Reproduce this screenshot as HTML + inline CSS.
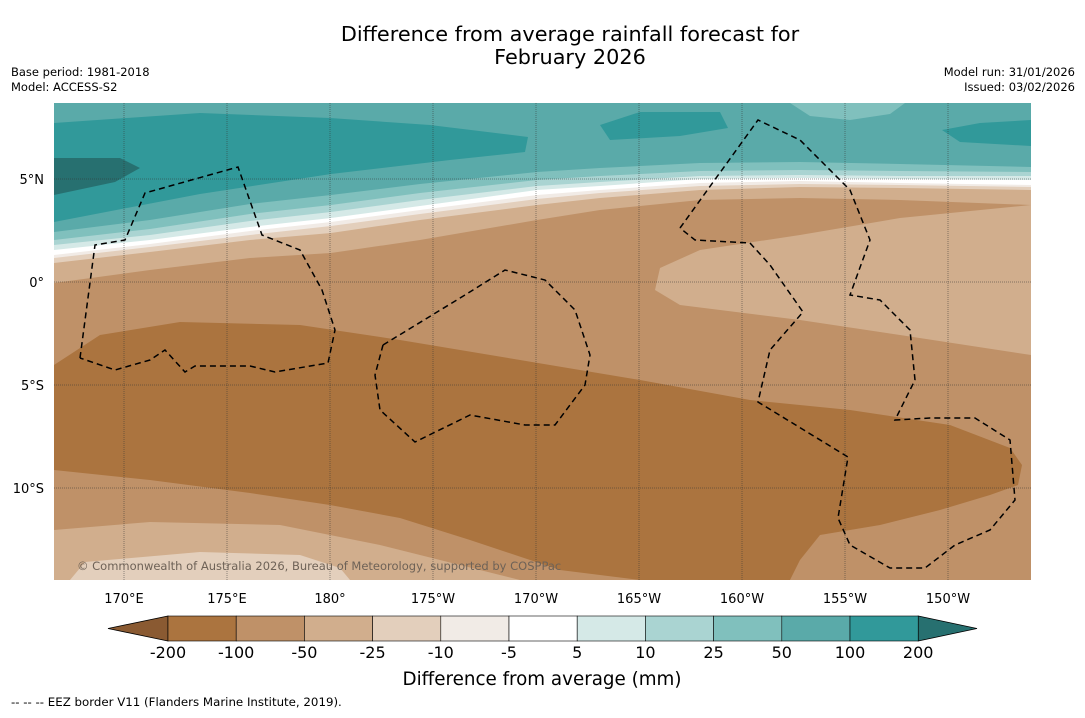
<!DOCTYPE html>
<html><head><meta charset="utf-8"><style>
body{margin:0;background:#fff;}
svg text{font-family:"DejaVu Sans","Liberation Sans",sans-serif;}
</style></head><body>
<svg width="1085" height="713" viewBox="0 0 1085 713" xmlns="http://www.w3.org/2000/svg">
<text x="570" y="41" font-size="20.8" text-anchor="middle">Difference from average rainfall forecast for</text>
<text x="570" y="64" font-size="20.8" text-anchor="middle">February 2026</text>
<text x="11" y="76" font-size="11.5">Base period: 1981-2018</text>
<text x="11" y="91" font-size="11.5">Model: ACCESS-S2</text>
<text x="1075" y="76" font-size="11.5" text-anchor="end">Model run: 31/01/2026</text>
<text x="1075" y="91" font-size="11.5" text-anchor="end">Issued: 03/02/2026</text>
<defs><clipPath id="mc"><rect x="54" y="103" width="977" height="477"/></clipPath></defs>
<g id="map" clip-path="url(#mc)"></g>
<g id="axes"></g>
<g id="cbar"></g>
<text x="542" y="685" font-size="18.3" text-anchor="middle">Difference from average (mm)</text>
<text x="11" y="706" font-size="11.8">--  --  -- EEZ border V11 (Flanders Marine Institute, 2019).</text>
</svg>
<script>
const levelLabels=["-200","-100","-50","-25","-10","-5","5","10","25","50","100","200"];
const levelColors=["#ab743f","#bf9168","#d1ae8d","#e3cfbc","#f1ebe6","#ffffff","#d5e9e7","#aad4d2","#80c0bd","#5aaaa9","#31999a"];
const lowColor="#8a5a32", highColor="#277070";
const lonTicks=[170,175,180,-175,-170,-165,-160,-155,-150];
const lonLabels=["170°E","175°E","180°","175°W","170°W","165°W","160°W","155°W","150°W"];
const latTicks=[5,0,-5,-10];
const latLabels=["5°N","0°","5°S","10°S"];
const NS="http://www.w3.org/2000/svg";
const xLon=l=>{let e=l<0?l+360:l;return 124+(e-170)*20.6;};
const yLat=l=>282-l*20.6;
const map=document.getElementById('map');
function poly(pts,fill,name){const p=document.createElementNS(NS,'polygon');p.setAttribute('points',pts.map(a=>a.join(',')).join(' '));p.setAttribute('fill',fill);


map.appendChild(p);}
const X=[54,150,250,331,420,537,600,700,800,900,1031];
function band(ys,fill,name){const pts=[[54,103],[1031,103]];for(let i=X.length-1;i>=0;i--)pts.push([X[i],ys[i]]);poly(pts,fill,name);}
poly([[54,103],[1031,103],[1031,580],[54,580]],levelColors[1],'anomaly-minus50-100');
band([283,270,258,253,240,220,210,200,198,200,205],levelColors[2],'anomaly-minus25-50');
poly([[1031,205],[900,218],[800,235],[700,250],[660,268],[655,290],[680,305],[800,320],[900,335],[1031,355]],levelColors[2],'anomaly-minus25-50-east');
band([263,252,240,233,220,205,198,190,187,188,190],levelColors[3],'anomaly-minus10-25');
band([258,247,235,226,214,199,193,186,184,185,187],levelColors[4],'anomaly-minus5-10');
band([255,244,231,222,210,195,190,183,181,183,185],levelColors[5],'anomaly-near-zero');
band([250,240,227,218,206,190,186,179,178,179,180],levelColors[6],'anomaly-5-10');
band([245,235,221,212,200,186,182,176,175,176,176],levelColors[7],'anomaly-10-25');
band([240,229,214,205,193,180,176,171,170,171,172],levelColors[8],'anomaly-25-50');
band([232,220,204,195,184,172,168,163,162,164,167],levelColors[9],'anomaly-50-100');
poly([[54,123],[200,113],[330,118],[430,125],[528,137],[525,152],[450,160],[331,174],[200,194],[54,222]],levelColors[10],'anomaly-100-200-west');
poly([[54,158],[120,158],[140,168],[115,182],[54,195]],highColor,'anomaly-over-200');
poly([[600,125],[640,112],[720,112],[728,128],[680,136],[610,140]],levelColors[10],'anomaly-100-200-central');
poly([[942,130],[980,123],[1031,120],[1031,146],[960,142]],levelColors[10],'anomaly-100-200-east');
poly([[790,103],[905,103],[890,114],[850,120],[810,116]],levelColors[8],'anomaly-25-50-patch');
poly([[54,365],[100,335],[180,322],[300,325],[400,340],[520,360],[640,380],[750,400],[850,410],[950,425],[1010,448],[1022,465],[1018,485],[990,495],[940,510],[880,525],[820,535],[800,560],[790,580],[640,580],[560,570],[470,540],[400,518],[330,505],[250,493],[150,480],[54,470]],levelColors[0],'anomaly-minus100-200');
poly([[54,530],[150,522],[280,525],[380,545],[460,565],[520,580],[54,580]],levelColors[2],'anomaly-minus25-50-south');
poly([[85,562],[200,552],[300,555],[340,568],[350,580],[70,580]],levelColors[3],'anomaly-minus10-25-south');
lonTicks.forEach(l=>{const x=xLon(l);const ln=document.createElementNS(NS,'line');ln.setAttribute('x1',x);ln.setAttribute('x2',x);ln.setAttribute('y1',103);ln.setAttribute('y2',580);ln.setAttribute('stroke','#333');ln.setAttribute('stroke-width','0.5');ln.setAttribute('stroke-dasharray','1,1');


map.appendChild(ln);});
latTicks.forEach(l=>{const y=yLat(l);const ln=document.createElementNS(NS,'line');ln.setAttribute('x1',54);ln.setAttribute('x2',1031);ln.setAttribute('y1',y);ln.setAttribute('y2',y);ln.setAttribute('stroke','#333');ln.setAttribute('stroke-width','0.5');ln.setAttribute('stroke-dasharray','1,1');


map.appendChild(ln);});
const eez=[
[[80,358],[95,245],[125,240],[145,193],[238,167],[262,235],[300,250],[322,290],[335,330],[328,363],[275,372],[250,366],[195,366],[185,372],[165,350],[150,360],[115,370],[80,358]],
[[383,345],[465,295],[505,270],[545,280],[575,310],[590,355],[585,385],[555,425],[525,425],[470,415],[415,442],[380,410],[375,375],[383,345]],
[[680,228],[758,120],[800,140],[850,190],[870,240],[850,295],[880,300],[910,330],[915,380],[895,420],[930,418],[975,418],[1010,440],[1015,500],[990,530],[955,545],[925,568],[890,568],[850,545],[838,518],[848,457],[758,402],[770,350],[803,312],[770,265],[750,243],[695,240],[680,228]]];
eez.forEach(pts=>{const p=document.createElementNS(NS,'polyline');p.setAttribute('points',pts.map(a=>a.join(',')).join(' '));p.setAttribute('fill','none');p.setAttribute('stroke','#000');p.setAttribute('stroke-width','1.5');p.setAttribute('stroke-dasharray','6,4');


map.appendChild(p);});
const cp=document.createElementNS(NS,'text');cp.setAttribute('x',77);cp.setAttribute('y',570);cp.setAttribute('font-size','11.5');cp.setAttribute('fill','#6e6257');cp.textContent='© Commonwealth of Australia 2026, Bureau of Meteorology, supported by COSPPac';


map.appendChild(cp);
const axes=document.getElementById('axes');
lonTicks.forEach((l,i)=>{const t=document.createElementNS(NS,'text');t.setAttribute('x',xLon(l));t.setAttribute('y',603);t.setAttribute('font-size','13');t.setAttribute('text-anchor','middle');t.textContent=lonLabels[i];


axes.appendChild(t);});
latTicks.forEach((l,i)=>{const t=document.createElementNS(NS,'text');t.setAttribute('x',44);t.setAttribute('y',yLat(l)+5);t.setAttribute('font-size','13');t.setAttribute('text-anchor','end');t.textContent=latLabels[i];


axes.appendChild(t);});
const cb=document.getElementById('cbar');
const x0=168,w=68.2,y0=616,h=25;
function tri(pts,fill){const p=document.createElementNS(NS,'polygon');p.setAttribute('points',pts);p.setAttribute('fill',fill);p.setAttribute('stroke','#000');p.setAttribute('stroke-width','0.8');


cb.appendChild(p);}
tri(`${x0},${y0} ${x0},${y0+h} 108,${y0+h/2}`,lowColor);
const xe=x0+w*levelColors.length;
tri(`${xe},${y0} ${xe},${y0+h} 977,${y0+h/2}`,highColor);
levelColors.forEach((c,i)=>{const r=document.createElementNS(NS,'rect');r.setAttribute('x',x0+i*w);r.setAttribute('y',y0);r.setAttribute('width',w);r.setAttribute('height',h);r.setAttribute('fill',c);r.setAttribute('stroke','#000');r.setAttribute('stroke-width','0.6');


cb.appendChild(r);});
levelLabels.forEach((s,i)=>{const t=document.createElementNS(NS,'text');t.setAttribute('x',x0+i*w);t.setAttribute('y',658);t.setAttribute('font-size','16');t.setAttribute('text-anchor','middle');t.textContent=s;


cb.appendChild(t);});
</script>
</body></html>
